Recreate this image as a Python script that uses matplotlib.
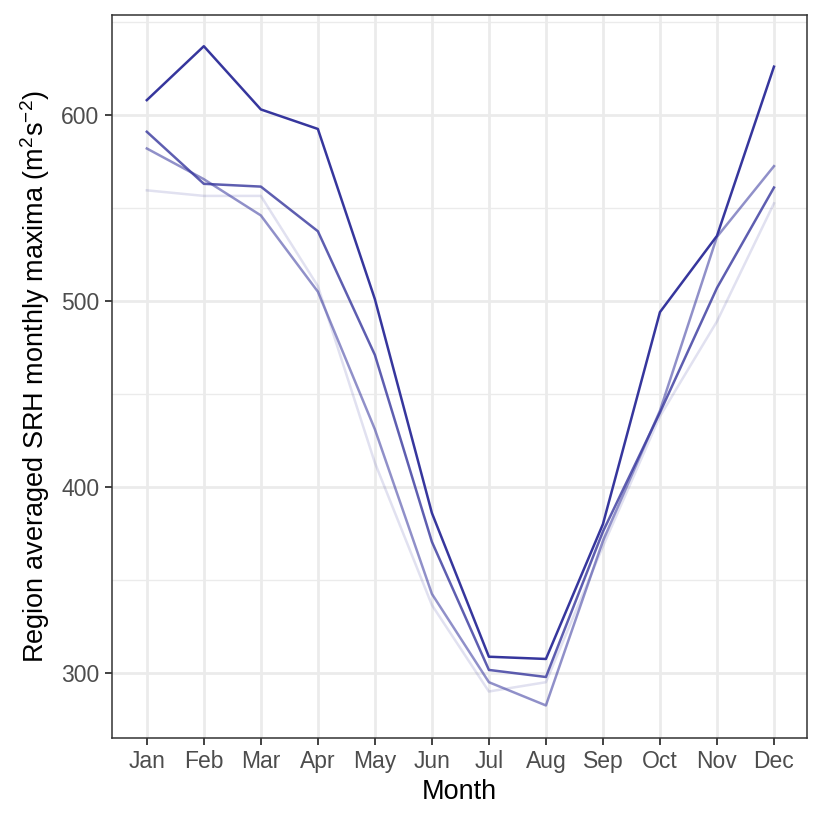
import matplotlib
matplotlib.use("Agg")
import matplotlib.pyplot as plt
from matplotlib.ticker import MultipleLocator

plt.rcParams['font.family'] = ['Liberation Sans', 'DejaVu Sans']
plt.rcParams['mathtext.fontset'] = 'custom'
plt.rcParams['mathtext.rm'] = 'Liberation Sans'
plt.rcParams['mathtext.it'] = 'Liberation Sans'

months = ['Jan', 'Feb', 'Mar', 'Apr', 'May', 'Jun',
          'Jul', 'Aug', 'Sep', 'Oct', 'Nov', 'Dec']

# four runs, drawn with decreasing opacity
srh_a = [608, 637, 603, 592.5, 501, 386, 308.7, 307.5, 380, 494, 535, 626]
srh_b = [591, 563, 561.5, 537.5, 471, 370.5, 301.6, 297.8, 376, 440, 507, 561]
srh_c = [582, 565.5, 546, 505, 431, 342.5, 295, 282.5, 371, 441, 534.5, 572.5]
srh_d = [559.5, 556.5, 556.5, 508, 413, 336.5, 290, 295, 368, 438, 489, 552.5]

series = [(srh_d, 0.15), (srh_c, 0.55), (srh_b, 0.8), (srh_a, 1.0)]
line_col = '#36369d'

fig = plt.figure(figsize=(8.22, 8.22), dpi=100)
ax = fig.add_axes([0.1363, 0.1022, 0.8455, 0.8796])

x = list(range(len(months)))
for vals, a in series:
    ax.plot(x, vals, color=line_col, alpha=a, linewidth=1.8, zorder=3)

ax.set_xlim(-0.61, 11.58)
ax.set_ylim(265, 653.8)
ax.set_xticks(x)
ax.set_xticklabels(months)
ax.yaxis.set_major_locator(MultipleLocator(100))
ax.yaxis.set_minor_locator(MultipleLocator(50))

ax.grid(True, which='major', color='#ebebeb', linewidth=2.0, zorder=0)
ax.grid(True, which='minor', axis='y', color='#ebebeb', linewidth=1.0, zorder=0)
ax.set_axisbelow(True)

for sp in ax.spines.values():
    sp.set_color('#333333')
    sp.set_linewidth(1.1)

ax.tick_params(axis='both', which='major', length=5, width=1.3, color='#333333',
               labelsize=16.5, labelcolor='#4d4d4d', pad=4)
ax.tick_params(axis='y', which='minor', length=0)

ax.set_xlabel('Month', fontsize=19.5, color='black', labelpad=4)
ax.set_ylabel('Region averaged SRH monthly maxima (m$^{2}$s$^{-2}$)',
              fontsize=19.5, color='black', labelpad=7)

fig.savefig('out.png', dpi=100, facecolor='white')
